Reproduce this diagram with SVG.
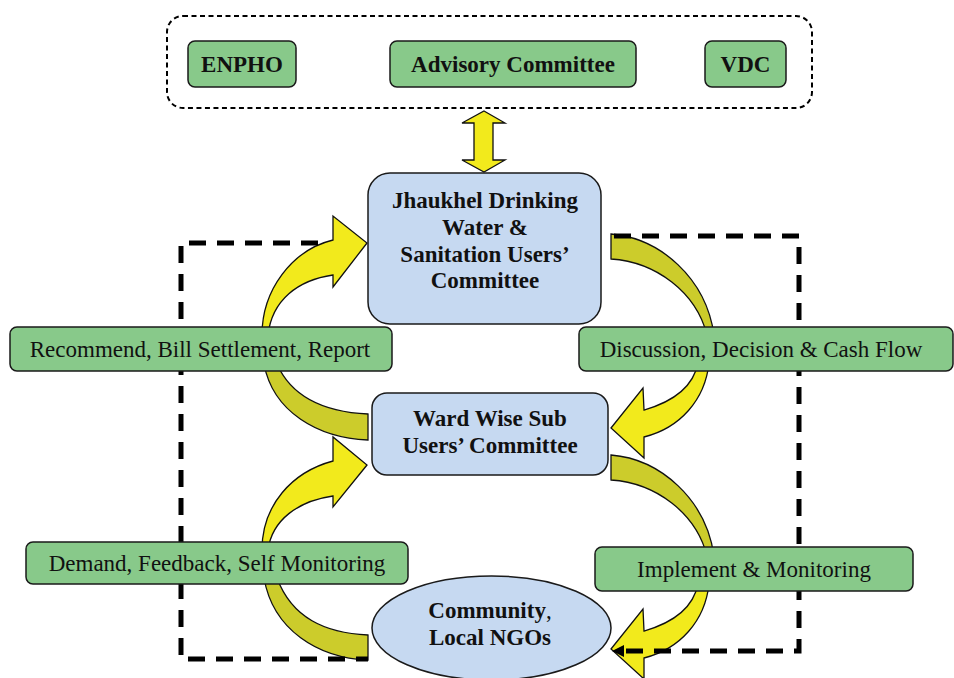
<svg xmlns="http://www.w3.org/2000/svg" width="954" height="678" viewBox="0 0 954 678">
<style>
.grn{fill:#88c98a;stroke:#1a1a1a;stroke-width:1.5}
.blu{fill:#c6d9f1;stroke:#1a1a1a;stroke-width:1.5}
.yel{fill:#f2ea1c;stroke:#111;stroke-width:1.3;stroke-linejoin:miter}
.olv{fill:#cccc2b;stroke:#111;stroke-width:1.3}
.dash{fill:none;stroke:#000;stroke-width:5;stroke-dasharray:17 11}
.b{font-family:"Liberation Serif","Times New Roman",serif;font-weight:bold;font-size:23px;fill:#111;text-anchor:middle}
.r{font-family:"Liberation Serif","Times New Roman",serif;font-size:23px;fill:#111;text-anchor:middle}
</style>
<defs>
<marker id="ah" viewBox="0 0 12 12" refX="0" refY="6" markerWidth="12" markerHeight="12" markerUnits="userSpaceOnUse" orient="auto">
<path d="M0,0 L12,6 L0,12 z" fill="#000"/>
</marker>
</defs>
<rect width="954" height="678" fill="#fff"/>

<g id="connectors">
<polygon class="yel" points="484,111 505,123 493,123 493,160 505,160 484,172 462,160 474,160 474,123 462,123"/>
<!-- top-left -->
<path class="yel" d="M262 335 C262 290 292 250 333 240 L333 216 L367 243 L333 287 L333 275 C298 280 272 300 268 335 Z"/>
<path class="olv" d="M264 364 C273 412 318 438 368 440 L368 414 C325 412 292 398 277 364 Z"/>
<!-- bottom-left -->
<path class="yel" d="M262 550 C262 505 292 472 333 461 L333 437 L367 465 L333 507 L333 496 C298 501 272 520 268 550 Z"/>
<path class="olv" d="M264 578 C273 630 318 658 368 660 L368 635 C325 633 292 618 277 578 Z"/>
<!-- top-right -->
<path class="olv" d="M611 234 C660 238 706 278 714 335 L707 335 C696 292 656 262 611 259 Z"/>
<path class="yel" d="M709 363 C705 400 680 428 644 437 L644 458 L611 428 L643 388 L644 410 C672 402 693 388 698 363 Z"/>
<!-- bottom-right -->
<path class="olv" d="M611 455 C660 459 706 499 714 556 L707 556 C696 513 656 483 611 480 Z"/>
<path class="yel" d="M709 584 C705 621 680 649 644 658 L644 679 L611 649 L643 609 L644 631 C672 623 693 609 698 584 Z"/>
<!-- dashed frames -->
<path class="dash" d="M318 243 H181 V659 H368"/>
<path class="dash" d="M614 236 H799 V651 H624" marker-end="url(#ah)"/>
</g>

<g id="partners">
<rect x="167" y="16" width="645" height="92" rx="16" fill="none" stroke="#000" stroke-width="2" stroke-dasharray="5 3.5"/>
</g>
<g id="enpho">
<rect class="grn" x="188" y="41" width="108" height="46" rx="7"/>
<text class="b" x="242" y="72">ENPHO</text>
</g>
<g id="advisory">
<rect class="grn" x="390" y="41" width="246" height="46" rx="7"/>
<text class="b" x="513" y="72">Advisory Committee</text>
</g>
<g id="vdc">
<rect class="grn" x="705" y="41" width="81" height="46" rx="7"/>
<text class="b" x="745.5" y="72">VDC</text>
</g>

<g id="jhaukhel">
<rect class="blu" x="368" y="173" width="233" height="151" rx="22"/>
<text class="b" x="485" y="208">Jhaukhel Drinking</text>
<text class="b" x="485" y="235">Water &amp;</text>
<text class="b" x="485" y="262">Sanitation Users’</text>
<text class="b" x="485" y="288">Committee</text>
</g>

<g id="ward">
<rect class="blu" x="372" y="393" width="236" height="82" rx="15"/>
<text class="b" x="490" y="426">Ward Wise Sub</text>
<text class="b" x="490" y="453">Users’ Committee</text>
</g>

<g id="community">
<ellipse class="blu" cx="491.5" cy="628" rx="119.5" ry="52"/>
<text class="b" x="490" y="618">Community<tspan font-weight="normal">,</tspan></text>
<text class="b" x="490" y="645">Local NGOs</text>
</g>

<g id="label-recommend">
<rect class="grn" x="10" y="327" width="382" height="44" rx="7"/>
<text class="r" x="200" y="357">Recommend, Bill Settlement, Report</text>
</g>
<g id="label-discussion">
<rect class="grn" x="579" y="327" width="374" height="44" rx="7"/>
<text class="r" x="761" y="357">Discussion, Decision &amp; Cash Flow</text>
</g>
<g id="label-demand">
<rect class="grn" x="26" y="542" width="382" height="42" rx="7"/>
<text class="r" x="217" y="571">Demand, Feedback, Self Monitoring</text>
</g>
<g id="label-implement">
<rect class="grn" x="595" y="547" width="318" height="44" rx="7"/>
<text class="r" x="754" y="577">Implement &amp; Monitoring</text>
</g>
</svg>
